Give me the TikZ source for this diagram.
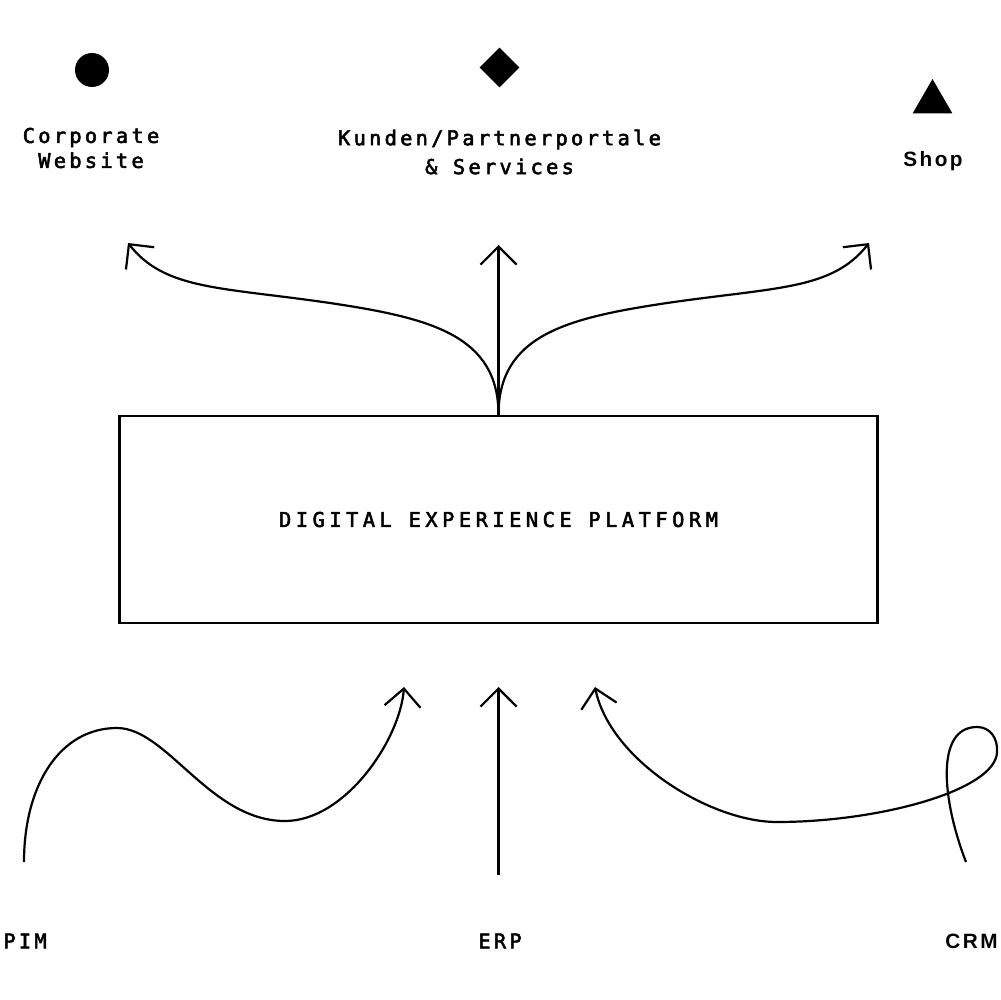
\documentclass[tikz,border=0pt]{standalone}
\usepackage{fontspec}
\usetikzlibrary{arrows.meta,shapes.geometric}
\newfontfamily\monof[LetterSpace=16, FakeBold=2.5]{DejaVu Sans Mono}
\newfontfamily\titlef[LetterSpace=22, FakeBold=2.5]{DejaVu Sans Mono}
\newfontfamily\sansf[LetterSpace=12]{Liberation Sans Bold}
\begin{document}
\begin{tikzpicture}[x=0.02cm,y=-0.02cm,
  lbl/.style={font=\monof\fontsize{11.6pt}{14.2pt}\selectfont, inner sep=0pt, align=center},
  slbl/.style={font=\sansf\fontsize{11.8pt}{14pt}\selectfont, inner sep=0pt},
  conn/.style={line width=1.25pt, -{Straight Barb[length=0.36cm,width=0.72cm,line width=1.25pt]}},
  glyph/.style={fill=black, draw=none, inner sep=0pt}]
\fill[white] (0,0) rectangle (1000,1000);
\useasboundingbox (0,0) rectangle (1000,1000);

% top markers
\node[glyph, circle, minimum size=0.68cm] (mc) at (92,70) {};
\node[glyph, diamond, minimum width=0.8cm, minimum height=0.8cm] (md) at (499.5,67.5) {};
\node[glyph, regular polygon, regular polygon sides=3, minimum size=0.92cm] (mt) at (932.5,102) {};

% top labels
\node[lbl] (lcw) at (91,148) {Corporate\\Website};
\node[lbl, font=\monof\fontsize{11.6pt}{16.4pt}\selectfont] (lkp) at (499.5,152) {Kunden/Partnerportale\\\& Services};
\node[slbl] (lshop) at (933,161) {Shop};

% platform box
\node[draw, line width=1.25pt, minimum width=15.16cm, minimum height=4.14cm, inner sep=0pt,
      font=\titlef\fontsize{11.6pt}{13pt}\selectfont] (dxp) at (498.5,519.5) {DIGITAL EXPERIENCE PLATFORM};

% outgoing arrows
\coordinate (tl) at (128,243);
\coordinate (tc) at (498.5,245);
\coordinate (tr) at (869,243);
\draw[conn] (dxp.north) .. controls (498.5,335) and (430,318) .. (330,303)
   .. controls (220,287) and (165,290) .. (tl);
\draw[conn] (dxp.north) -- (tc);
\draw[conn] (dxp.north) .. controls (498.5,335) and (567,318) .. (667,303)
   .. controls (777,287) and (832,290) .. (tr);

% bottom labels
\node[lbl, anchor=west] (lpim) at (3,941) {PIM};
\node[lbl] (lerp) at (500,941) {ERP};
\node[slbl, anchor=east] (lcrm) at (998,941) {CRM};

% incoming arrows
\coordinate (ps) at (24,862);
\coordinate (pt) at (404,687);
\coordinate (es) at (498.5,875);
\coordinate (et) at (498.5,687);
\coordinate (cs) at (966,862);
\coordinate (ct) at (595,687);
\draw[conn] (ps) .. controls (24,785) and (60,728) .. (117,728)
   .. controls (167,728) and (210,821) .. (285,821)
   .. controls (345,821) and (400,740) .. (pt);
\draw[conn] (es) -- (et);
\draw[conn] (cs) .. controls (942,800) and (935,727) .. (977,727)
   .. controls (990,727) and (998,738) .. (997,752)
   .. controls (996,790) and (880,822) .. (777,822)
   .. controls (710,822) and (610,760) .. (ct);
\end{tikzpicture}
\end{document}
